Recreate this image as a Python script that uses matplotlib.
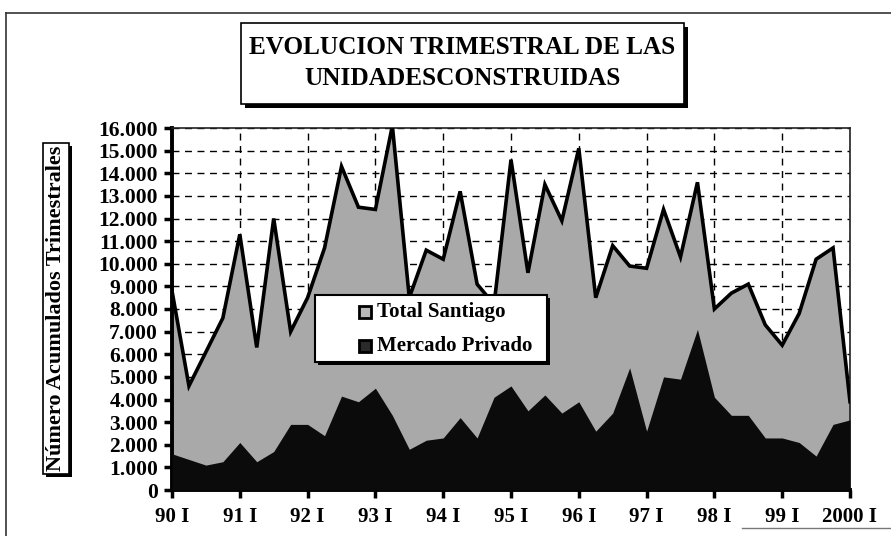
import matplotlib
matplotlib.use("Agg")
import matplotlib.pyplot as plt
from matplotlib.patches import Rectangle
from matplotlib.ticker import FuncFormatter
import numpy as np

# ---- data (units per quarter, 1990 I .. 2000 I) ----
quarters = [f"{y} {q}" for y in range(1990, 2000) for q in ["I", "II", "III", "IV"]] + ["2000 I"]
total_santiago = [8800, 4600, 6100, 7600, 11300, 6300, 12000, 7000,
                  8500, 10700, 14300, 12500, 12400, 16100, 8500, 10600,
                  10200, 13200, 9100, 8200, 14600, 9600, 13500, 11900,
                  15100, 8500, 10800, 9900, 9800, 12400, 10300, 13600,
                  8000, 8700, 9100, 7300, 6400, 7800, 10200, 10700, 3900]
mercado_privado = [1600, 1350, 1100, 1250, 2100, 1250, 1700, 2900,
                   2900, 2400, 4150, 3900, 4500, 3300, 1800, 2200,
                   2300, 3200, 2300, 4100, 4600, 3500, 4200, 3400,
                   3900, 2600, 3400, 5400, 2600, 5000, 4900, 7100,
                   4100, 3300, 3300, 2300, 2300, 2100, 1500, 2900, 3100]
tick_labels = ["90 I", "91 I", "92 I", "93 I", "94 I", "95 I", "96 I",
               "97 I", "98 I", "99 I", "2000 I"]
series_names = ["Total Santiago", "Mercado Privado"]
title_text = "EVOLUCION TRIMESTRAL DE LAS\nUNIDADESCONSTRUIDAS"
ylabel_text = "Número Acumulados Trimestrales"

FONT = "Liberation Serif"
plt.rcParams["font.family"] = [FONT, "DejaVu Serif"]
plt.rcParams["font.weight"] = "bold"

W, H = 891, 536
fig = plt.figure(figsize=(W / 100, H / 100), dpi=100)
fig.patch.set_facecolor("white")

def fx(px):
    return px / W

def fy(py):
    return 1 - py / H

# outer frame lines (left, top)
fig.add_artist(plt.Line2D([fx(6), fx(6)], [fy(13), fy(536)], color="#333333", lw=1.2))
fig.add_artist(plt.Line2D([fx(6), fx(891)], [fy(13), fy(13)], color="#333333", lw=1.2))
fig.add_artist(plt.Line2D([fx(742), fx(891)], [fy(528), fy(528)], color="#777777", lw=1.0))

# plot area
x0, x1, ytop, ybot = 172, 850, 128, 490
ax = fig.add_axes([fx(x0), fy(ybot), fx(x1 - x0), (ybot - ytop) / H])
x = np.arange(len(total_santiago))

ax.set_axisbelow(True)
ax.fill_between(x, 0, total_santiago, color="#a9a9a9", lw=0, zorder=2)
ax.fill_between(x, 0, mercado_privado, color="#0b0b0b", lw=0, zorder=3)
ax.plot(x, total_santiago, color="black", lw=2.6, zorder=4, solid_joinstyle="miter")

ax.set_xlim(0, len(x) - 1)
ax.set_ylim(0, 16000)
ax.set_yticks(np.arange(0, 16001, 1000))
ax.yaxis.set_major_formatter(FuncFormatter(lambda v, p: f"{int(v):,}".replace(",", ".")))
ax.set_xticks(np.arange(0, len(x), 4))
ax.set_xticklabels(tick_labels)

ax.grid(True, which="major", color="black", linestyle=(0, (5, 4)), lw=1.0, zorder=1)
for s in ["left", "bottom"]:
    ax.spines[s].set_linewidth(2.8)
for s in ["top", "right"]:
    ax.spines[s].set_linewidth(1.2)
    ax.spines[s].set_color("#222222")
ax.tick_params(axis="both", direction="out", length=6, width=2.5, colors="black")
ax.tick_params(axis="y", labelsize=15.5, pad=4)
ax.tick_params(axis="x", labelsize=15, pad=6)
for lab in ax.get_xticklabels() + ax.get_yticklabels():
    lab.set_fontweight("bold")
    lab.set_family([FONT, "DejaVu Serif"])

# shadowed boxes helper
def shadow_box(px0, py0, px1, py1, off=4, lw=1.2):
    fig.add_artist(Rectangle((fx(px0 + off), fy(py1 + off)), fx(px1 - px0), (py1 - py0) / H,
                             transform=fig.transFigure, facecolor="black", edgecolor="black", lw=0, zorder=5))
    fig.add_artist(Rectangle((fx(px0), fy(py1)), fx(px1 - px0), (py1 - py0) / H,
                             transform=fig.transFigure, facecolor="white", edgecolor="black", lw=lw, zorder=6))

# title box
shadow_box(241, 23, 684, 104, off=4)
fig.text(fx((241 + 684) / 2), fy(63), title_text, ha="center", va="center", fontsize=18.2,
         fontweight="bold", linespacing=1.4, zorder=7)

# y label box
shadow_box(43, 143, 69, 474, off=3)
fig.text(fx(56), fy(308), ylabel_text, ha="center", va="center", rotation=90, fontsize=16,
         fontweight="bold", zorder=7)

# legend box
lx0, ly0, lx1, ly1 = 315, 295, 547, 362
shadow_box(lx0, ly0, lx1, ly1, off=3, lw=1.5)
legend_colors = ["#b8b8b8", "#2a2a2a"]
for i, (name, c) in enumerate(zip(series_names, legend_colors)):
    cy = 312 + i * 34
    fig.add_artist(Rectangle((fx(359), fy(cy + 6)), fx(12), 12 / H, transform=fig.transFigure,
                             facecolor=c, edgecolor="black", lw=2.0, zorder=7))
    fig.text(fx(377), fy(cy), name, ha="left", va="center", fontsize=15, fontweight="bold", zorder=7)

fig.savefig("out.png", dpi=100)
